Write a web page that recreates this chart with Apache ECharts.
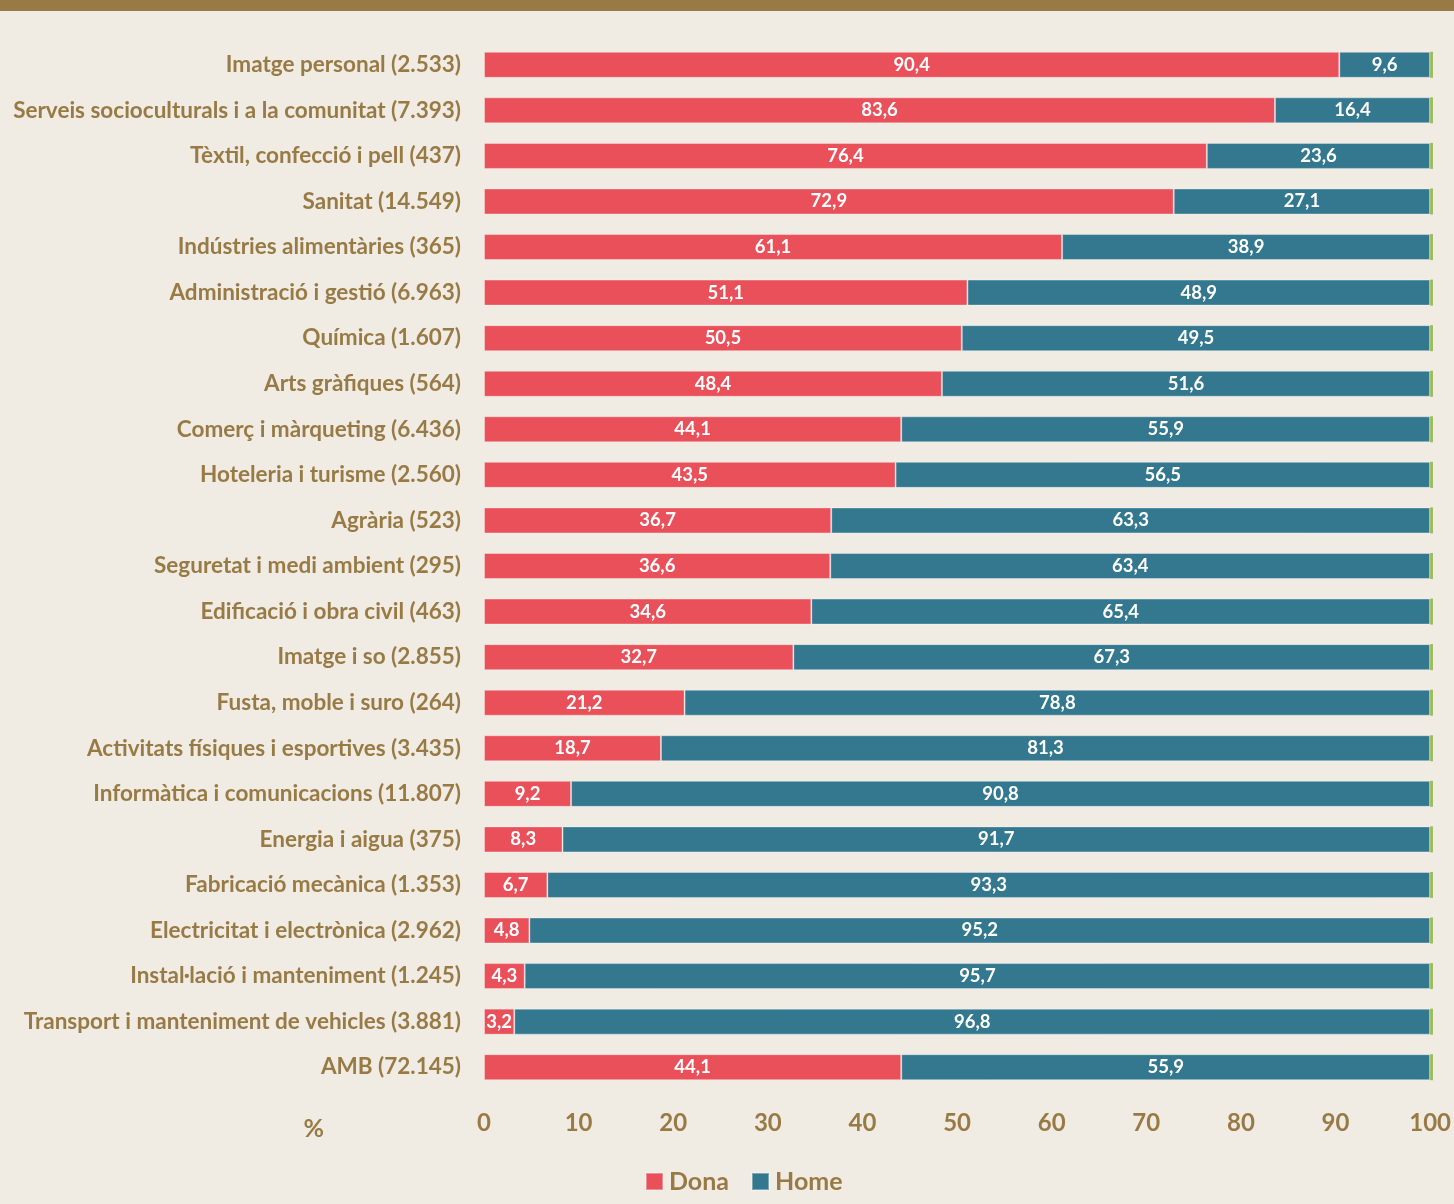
<!DOCTYPE html>
<html>
<head>
<meta charset="utf-8">
<script src="https://cdn.jsdelivr.net/npm/echarts@6/dist/echarts.min.js"></script>
<style>
  html, body { margin: 0; padding: 0; background: #f0ebe3; }
  #strip { position: absolute; left: 0; top: 0; width: 1454px; height: 11px; background: #987a45; z-index: 10; }
  #chart { width: 1454px; height: 1204px; }
</style>
</head>
<body>
<div id="strip"></div>
<div id="chart"></div>
<script>
// Famílies professionals (total alumnes) i distribució per sexe (%)
const categories = [
  'Imatge personal (2.533)',
  'Serveis socioculturals i a la comunitat (7.393)',
  'Tèxtil, confecció i pell (437)',
  'Sanitat (14.549)',
  'Indústries alimentàries (365)',
  'Administració i gestió (6.963)',
  'Química (1.607)',
  'Arts gràfiques (564)',
  'Comerç i màrqueting (6.436)',
  'Hoteleria i turisme (2.560)',
  'Agrària (523)',
  'Seguretat i medi ambient (295)',
  'Edificació i obra civil (463)',
  'Imatge i so (2.855)',
  'Fusta, moble i suro (264)',
  'Activitats físiques i esportives (3.435)',
  'Informàtica i comunicacions (11.807)',
  'Energia i aigua (375)',
  'Fabricació mecànica (1.353)',
  'Electricitat i electrònica (2.962)',
  'Instal·lació i manteniment (1.245)',
  'Transport i manteniment de vehicles (3.881)',
  'AMB (72.145)'
];
const dona = [90.4, 83.6, 76.4, 72.9, 61.1, 51.1, 50.5, 48.4, 44.1, 43.5, 36.7, 36.6, 34.6, 32.7, 21.2, 18.7, 9.2, 8.3, 6.7, 4.8, 4.3, 3.2, 44.1];
const home = [9.6, 16.4, 23.6, 27.1, 38.9, 48.9, 49.5, 51.6, 55.9, 56.5, 63.3, 63.4, 65.4, 67.3, 78.8, 81.3, 90.8, 91.7, 93.3, 95.2, 95.7, 96.8, 55.9];
const altres = [0.3, 0.3, 0.3, 0.3, 0.3, 0.3, 0.3, 0.3, 0.3, 0.3, 0.3, 0.3, 0.3, 0.3, 0.3, 0.3, 0.3, 0.3, 0.3, 0.3, 0.3, 0.3, 0.3];
const xTicks = [0, 10, 20, 30, 40, 50, 60, 70, 80, 90, 100];

const brown = '#987a45';
const font = 'Lato, "Open Sans", sans-serif';
const fmt = v => String(v).replace('.', ',');

const chart = echarts.init(document.getElementById('chart'), null, { renderer: 'canvas' });

const segLabel = {
  show: true,
  position: 'inside',
  color: '#ffffff',
  fontFamily: font,
  fontWeight: 'bold',
  fontSize: 18.5,
  formatter: p => fmt(p.value)
};

chart.setOption({
  backgroundColor: '#f0ebe3',
  animation: false,
  grid: { left: 484, right: 23, top: 42, bottom: 114, containLabel: false },
  legend: {
    data: ['Dona', 'Home'],
    top: 1164,
    left: 640,
    itemWidth: 17,
    itemHeight: 17,
    itemGap: 22,
    icon: 'rect',
    textStyle: { color: brown, fontFamily: font, fontWeight: 'bold', fontSize: 25, padding: [0, 0, 0, 1] }
  },
  xAxis: {
    type: 'value',
    min: 0,
    max: 100,
    interval: 10,
    name: '%',
    nameLocation: 'start',
    nameGap: 0,
    nameTextStyle: { color: brown, fontFamily: font, fontWeight: 'bold', fontSize: 25, padding: [26, 160, 0, 0], verticalAlign: 'top' },
    axisLine: { show: false },
    axisTick: { show: false },
    splitLine: { show: false },
    axisLabel: {
      color: brown,
      fontFamily: font,
      fontWeight: 'bold',
      fontSize: 24,
      margin: 21,
      formatter: v => xTicks.includes(v) ? String(v) : ''
    }
  },
  yAxis: {
    type: 'category',
    data: categories,
    inverse: true,
    axisLine: { show: false },
    axisTick: { show: false },
    axisLabel: {
      color: brown,
      fontFamily: font,
      fontWeight: 'bold',
      fontSize: 22.5,
      margin: 23
    }
  },
  series: [
    {
      name: 'Dona', type: 'bar', stack: 'total', data: dona, barWidth: 26,
      itemStyle: { color: '#e9505a', borderColor: 'rgba(255,255,255,0.35)', borderWidth: 1 },
      label: segLabel, clip: false
    },
    {
      name: 'Home', type: 'bar', stack: 'total', data: home, barWidth: 26,
      itemStyle: { color: '#33788f', borderColor: 'rgba(255,255,255,0.35)', borderWidth: 1 },
      label: segLabel, clip: false
    },
    {
      name: 'Altres', type: 'bar', stack: 'total', data: altres, barWidth: 26,
      itemStyle: { color: '#9bbb59' },
      label: { show: false }, clip: false
    }
  ]
});
</script>
</body>
</html>
